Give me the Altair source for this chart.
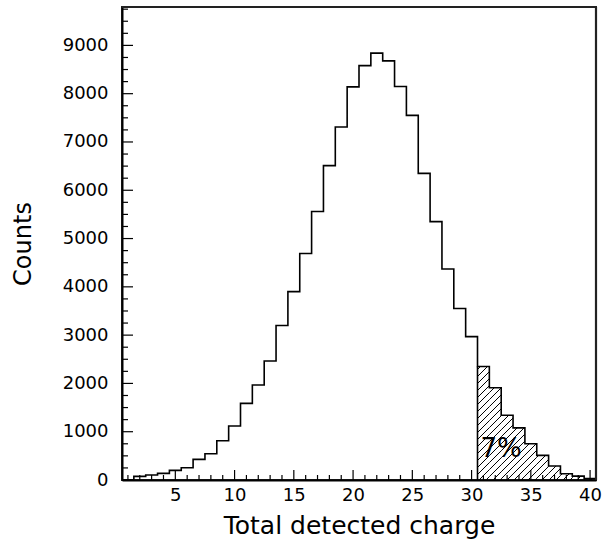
import altair as alt
import numpy as np
import pandas as pd

# ---- data ----
bin_centers = list(range(1, 41))
counts = [0, 76, 104, 138, 200, 255, 428, 545, 814, 1118,
          1587, 1967, 2463, 3200, 3900, 4690, 5560, 6510, 7310, 8140,
          8580, 8840, 8680, 8150, 7550, 6350, 5350, 4370, 3550, 2970,
          2350, 1910, 1340, 1080, 750, 510, 290, 130, 80, 30]
x_label_values = [5, 10, 15, 20, 25, 30, 35, 40]
y_label_values = [0, 1000, 2000, 3000, 4000, 5000, 6000, 7000, 8000, 9000]
cut_edge = 30.5
pct_text = ["7%"]
pct_pos_x = [32.5]
pct_pos_y = [640]

# ---- layout ----
W, H = 474, 473
XMIN, XMAX = 0.5, 40.5
YMAX = 9795
FONT = "DejaVu Sans"

xs = alt.Scale(domain=[XMIN, XMAX], nice=False, zero=False)
ys = alt.Scale(domain=[0, YMAX], nice=False, zero=True)

# step outline
edges_left = [c - 0.5 for c in bin_centers]
df_step = pd.DataFrame({
    "x": edges_left + [bin_centers[-1] + 0.5, bin_centers[-1] + 0.5],
    "y": counts + [counts[-1], 0],
})

line = alt.Chart(df_step).mark_line(
    interpolate="step-after", color="black", strokeWidth=1.6
).encode(
    x=alt.X("x:Q", scale=xs, axis=alt.Axis(
        values=x_label_values, format="d", ticks=False, domain=True,
        domainColor="black", domainWidth=2, labelFont=FONT, labelFontSize=18,
        labelColor="black", labelPadding=6, grid=False,
        title="Total detected charge", titleFont=FONT, titleFontSize=25,
        titleFontWeight="normal", titleColor="black", titlePadding=9,
        labelFlush=False)),
    y=alt.Y("y:Q", scale=ys, axis=alt.Axis(
        values=y_label_values, format="d", ticks=False, domain=True,
        domainColor="black", domainWidth=2, labelFont=FONT, labelFontSize=18,
        labelColor="black", labelPadding=14, grid=False, title="Counts",
        titleFont=FONT, titleFontSize=24, titleFontWeight="normal",
        titleColor="black", titlePadding=27, labelFlush=False)),
)

# hatch segments (derived from the counts, clipped to the tail region)
sx = W / (XMAX - XMIN)
sy = H / YMAX
spacing = 7.0
segs = []
for c, h in zip(bin_centers, counts):
    a, b = c - 0.5, c + 0.5
    if a < cut_edge - 1e-9:
        continue
    pa, pb, ph = (a - XMIN) * sx, (b - XMIN) * sx, h * sy
    for k in range(-int(H / spacing) - 2, int(W / spacing) + 2):
        off = k * spacing
        p0 = max(pa, off)
        p1 = min(pb, ph + off)
        if p1 > p0:
            segs.append({
                "x": p0 / sx + XMIN, "x2": p1 / sx + XMIN,
                "y": (p0 - off) / sy, "y2": (p1 - off) / sy,
            })
df_hatch = pd.DataFrame(segs)
hatch = alt.Chart(df_hatch).mark_rule(color="black", strokeWidth=1).encode(
    x=alt.X("x:Q", scale=xs), x2="x2:Q",
    y=alt.Y("y:Q", scale=ys), y2="y2:Q",
)

# left boundary of the shaded tail
cut_idx = edges_left.index(cut_edge)
df_cut = pd.DataFrame({"x": [cut_edge], "y": [0], "y2": [counts[cut_idx]]})
cut_rule = alt.Chart(df_cut).mark_rule(color="black", strokeWidth=1.6).encode(
    x=alt.X("x:Q", scale=xs), y=alt.Y("y:Q", scale=ys), y2="y2:Q"
)

# inward ticks
xt = pd.DataFrame({"v": list(range(1, 41))})
xt["major"] = xt["v"] % 5 == 0
x_major = alt.Chart(xt[xt.major]).mark_rule(color="black", strokeWidth=1.2).encode(
    x=alt.X("v:Q", scale=xs), y=alt.value(H), y2=alt.value(H - 10))
x_minor = alt.Chart(xt[~xt.major]).mark_rule(color="black", strokeWidth=1.2).encode(
    x=alt.X("v:Q", scale=xs), y=alt.value(H), y2=alt.value(H - 5))

yt = pd.DataFrame({"v": list(range(0, 9800, 250))})
yt["major"] = yt["v"] % 1000 == 0
y_major = alt.Chart(yt[yt.major]).mark_rule(color="black", strokeWidth=1.2).encode(
    y=alt.Y("v:Q", scale=ys), x=alt.value(0), x2=alt.value(11))
y_minor = alt.Chart(yt[~yt.major]).mark_rule(color="black", strokeWidth=1.2).encode(
    y=alt.Y("v:Q", scale=ys), x=alt.value(0), x2=alt.value(6))

# frame: top and right edges, drawn as segments between scale limits
frame_df = pd.DataFrame({
    "fx": [XMIN, XMAX], "fx2": [XMAX, XMAX],
    "fy": [YMAX, 0], "fy2": [YMAX, YMAX],
})
frame = alt.Chart(frame_df).mark_rule(color="#222222", strokeWidth=2.2).encode(
    x=alt.X("fx:Q", scale=xs), x2="fx2:Q",
    y=alt.Y("fy:Q", scale=ys), y2="fy2:Q",
)

df_txt = pd.DataFrame({"t": pct_text, "x": pct_pos_x, "y": pct_pos_y})
txt = alt.Chart(df_txt).mark_text(
    font=FONT, fontSize=26, color="black", align="center", baseline="middle"
).encode(x=alt.X("x:Q", scale=xs), y=alt.Y("y:Q", scale=ys), text="t:N")

chart = alt.layer(
    hatch, cut_rule, line, x_major, x_minor, y_major, y_minor, frame, txt
).properties(
    width=W, height=H,
    padding={"left": 122, "top": 7, "right": 7, "bottom": 63},
    autosize=alt.AutoSizeParams(type="none"),
    background="white",
).configure_view(
    stroke="#222222", strokeWidth=2
)

chart.save("out.html", embed_options={"renderer": "svg", "actions": False})
